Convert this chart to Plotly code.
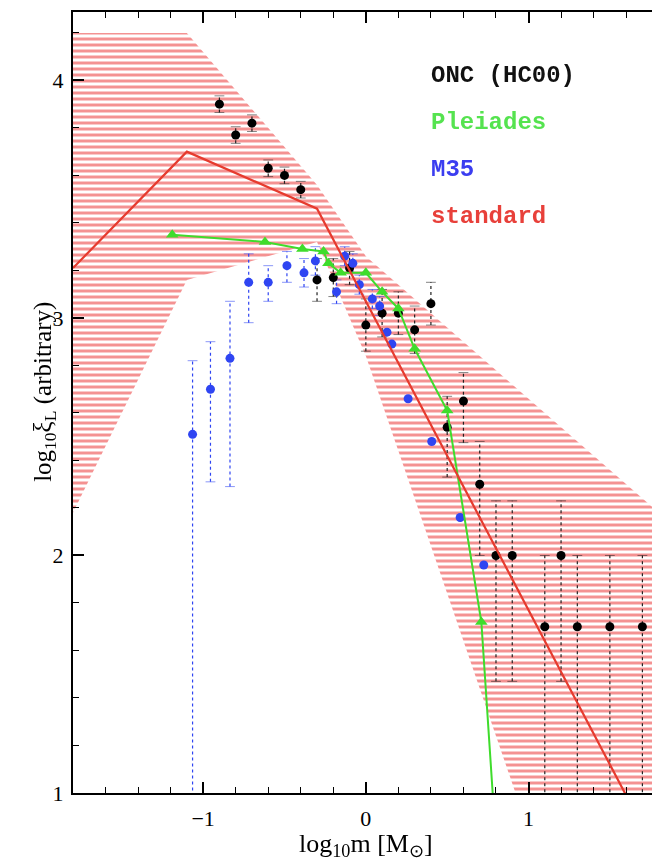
import plotly.graph_objects as go

# ONC (HC00) mass function, log10 m vs log10 xi_L, with asymmetric errors
onc_logm = [-0.9, -0.8, -0.7, -0.6, -0.5, -0.4, -0.3, -0.2, -0.1, 0.0, 0.1, 0.2,
            0.3, 0.4, 0.5, 0.6, 0.7, 0.8, 0.9, 1.1, 1.2, 1.3, 1.5, 1.7]
onc_logxi = [3.90, 3.77, 3.82, 3.63, 3.60, 3.54, 3.16, 3.17, 3.21, 2.97, 3.02, 3.02,
             2.95, 3.06, 2.54, 2.65, 2.30, 2.00, 2.00, 1.70, 2.00, 1.70, 1.70, 1.70]
onc_err_hi = [0.035, 0.035, 0.035, 0.035, 0.035, 0.035, 0.09, 0.08, 0.07, 0.11, 0.10, 0.09,
              0.10, 0.09, 0.13, 0.12, 0.18, 0.23, 0.23, 0.30, 0.23, 0.30, 0.30, 0.30]
onc_err_lo = [0.035, 0.035, 0.035, 0.035, 0.035, 0.035, 0.09, 0.08, 0.07, 0.11, 0.10, 0.09,
              0.10, 0.09, 0.21, 0.175, 0.30, 0.53, 0.53, 1.0, 0.53, 1.0, 1.0, 1.0]

# M35
m35_logm = [-1.065, -0.955, -0.835, -0.72, -0.60, -0.485, -0.38, -0.31, -0.18, -0.13,
            -0.08, -0.04, 0.04, 0.085, 0.13, 0.16, 0.26, 0.405, 0.58, 0.725]
m35_logxi = [2.51, 2.70, 2.83, 3.15, 3.15, 3.22, 3.19, 3.24, 3.11, 3.26,
             3.23, 3.14, 3.08, 3.05, 2.94, 2.89, 2.66, 2.48, 2.16, 1.96]
m35_err_hi = [0.31, 0.20, 0.24, 0.12, 0.07, 0.06, 0.06, 0.06, 0.05, 0.04,
              0.04, 0.04, 0.04, 0.04, 0.0, 0.0, 0.0, 0.0, 0.0, 0.0]
m35_err_lo = [1.6, 0.39, 0.54, 0.17, 0.08, 0.07, 0.06, 0.06, 0.05, 0.04,
              0.04, 0.04, 0.04, 0.04, 0.0, 0.0, 0.0, 0.0, 0.0, 0.0]

# Pleiades
ple_logm = [-1.19, -0.62, -0.39, -0.26, -0.23, -0.155, 0.0, 0.1, 0.2, 0.3, 0.5, 0.71, 0.8]
ple_logxi = [3.35, 3.32, 3.29, 3.28, 3.23, 3.19, 3.19, 3.11, 3.04, 2.87, 2.61, 1.72, 0.79]

# standard (multi-part power-law) IMF and its uncertainty band
imf_logm = [-1.8, -1.1, -0.3, 1.8]
imf_logxi = [3.21, 3.70, 3.46, 0.73]
band_logm = [-1.8, -1.1, -0.3, 0.0, 1.8]
band_upper = [4.2, 4.2, 3.56, 3.26, 2.18]
band_lower = [2.18, 3.16, 3.32, 2.84, -0.76]

# key labels
labels = ["ONC (HC00)", "Pleiades", "M35", "standard"]
label_colors = ["#111111", "#55e34f", "#3b3df0", "#e8403a"]

RED = "#e63b2e"
GREEN = "#3fdc2c"
BLUE = "#2f45f2"

fig = go.Figure()

# hatched uncertainty band
fig.add_trace(go.Scatter(
    x=band_logm + band_logm[::-1],
    y=band_upper + band_lower[::-1],
    mode="lines", fill="toself", line=dict(width=0),
    fillcolor="rgba(0,0,0,0)",
    fillpattern=dict(shape="-", size=6, solidity=0.5,
                     fgcolor="rgb(240,100,100)", fgopacity=0.7,
                     bgcolor="rgba(0,0,0,0)"),
    hoverinfo="skip", showlegend=False,
))


def err_segments(xs, ys, hi, lo):
    sx, sy, cx, cy = [], [], [], []
    for x, y, h, l in zip(xs, ys, hi, lo):
        if h == 0 and l == 0:
            continue
        sx += [x, x, None]
        sy += [y - l, y + h, None]
        cx += [x, x]
        cy += [y - l, y + h]
    return sx, sy, cx, cy


def add_errors(xs, ys, hi, lo, color):
    sx, sy, cx, cy = err_segments(xs, ys, hi, lo)
    fig.add_trace(go.Scatter(x=sx, y=sy, mode="lines",
                             line=dict(color=color, width=1.2, dash="dot"),
                             hoverinfo="skip", showlegend=False))
    fig.add_trace(go.Scatter(x=cx, y=cy, mode="markers",
                             marker=dict(symbol="line-ew", size=7,
                                         line=dict(color=color, width=0.8)),
                             opacity=0.7, hoverinfo="skip", showlegend=False))


add_errors(onc_logm, onc_logxi, onc_err_hi, onc_err_lo, "#222222")
add_errors(m35_logm, m35_logxi, m35_err_hi, m35_err_lo, BLUE)

fig.add_trace(go.Scatter(x=onc_logm, y=onc_logxi, mode="markers",
                         marker=dict(color="black", size=9),
                         name=labels[0], showlegend=False))
fig.add_trace(go.Scatter(x=m35_logm, y=m35_logxi, mode="markers",
                         marker=dict(color=BLUE, size=9),
                         name=labels[2], showlegend=False))
fig.add_trace(go.Scatter(x=ple_logm, y=ple_logxi, mode="lines+markers",
                         line=dict(color=GREEN, width=2),
                         marker=dict(symbol="triangle-up", size=11, color=GREEN),
                         name=labels[1], showlegend=False))
fig.add_trace(go.Scatter(x=imf_logm, y=imf_logxi, mode="lines",
                         line=dict(color=RED, width=2.2),
                         name=labels[3], showlegend=False))

# coloured key text
for i, (txt, col) in enumerate(zip(labels, label_colors)):
    fig.add_annotation(x=0.39, y=4.02 - 0.198 * i, xref="x", yref="y",
                       text="<b>" + txt + "</b>", showarrow=False,
                       xanchor="left", yanchor="middle",
                       font=dict(family="Liberation Mono", size=24, color=col))

serif = "Liberation Serif"
axis_common = dict(
    showline=True, linecolor="black", linewidth=2,
    ticks="inside", ticklen=11, tickwidth=1.5, tickcolor="black",
    dtick=1, tick0=0, showgrid=False, zeroline=False,
    minor=dict(dtick=0.2, ticks="inside", ticklen=6, tickwidth=1.2, tickcolor="black"),
    tickfont=dict(family=serif, size=22, color="black"),
)

fig.update_xaxes(range=[-1.8, 1.759], mirror="ticks", ticklabelstandoff=5, **axis_common)
fig.update_yaxes(range=[1, 4.288], mirror=False, ticklabelstandoff=3, **axis_common)

fig.add_annotation(xref="paper", yref="paper", x=0, y=0.513, xshift=-46,
                   text="log<sub>10</sub>ξ<sub>L</sub> (arbitrary)", textangle=-90,
                   showarrow=False, font=dict(family=serif, size=25, color="black"))
fig.add_annotation(xref="x", yref="paper", x=0, y=0, yshift=-34, yanchor="top",
                   text="log<sub>10</sub>m [M<sub>⊙</sub>]",
                   showarrow=False, font=dict(family=serif, size=26, color="black"))

fig.update_layout(
    width=652, height=862,
    margin=dict(l=73, r=0, t=12, b=69),
    plot_bgcolor="white", paper_bgcolor="white",
    showlegend=False,
)

fig.write_html("out.html")
